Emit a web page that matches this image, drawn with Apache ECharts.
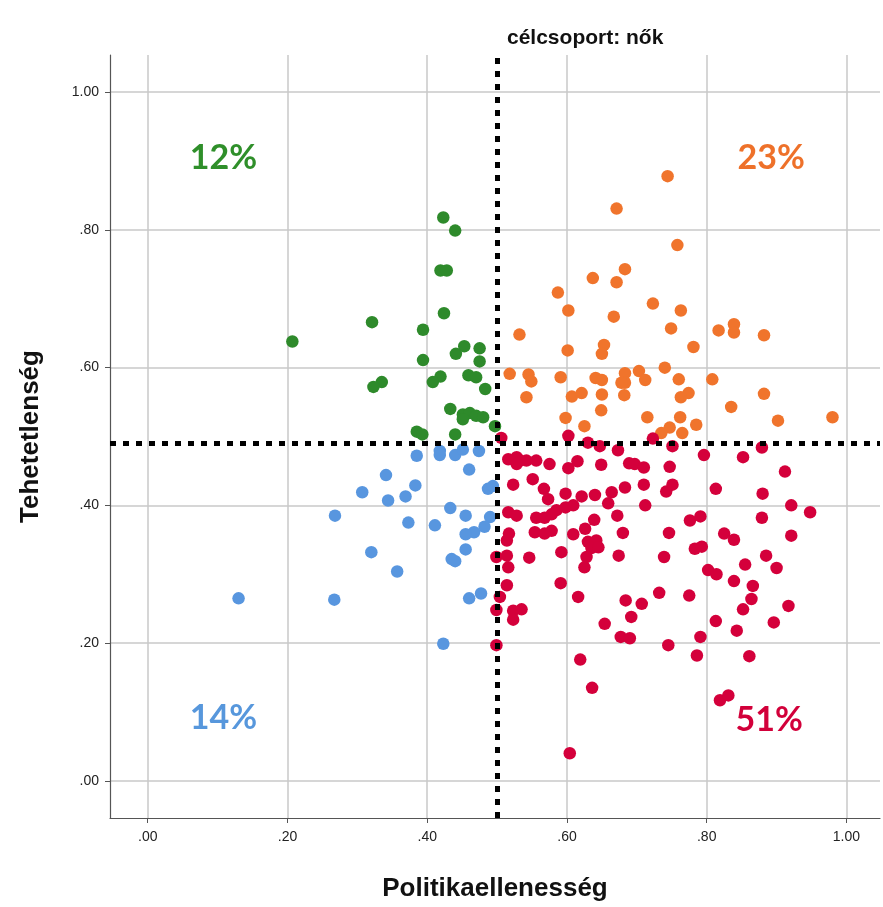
<!DOCTYPE html>
<html>
<head>
<meta charset="utf-8">
<script src="https://cdn.jsdelivr.net/npm/echarts@6/dist/echarts.min.js"></script>
<style>html,body{margin:0;padding:0;background:#fff}#c{width:883px;height:907px}</style>
</head>
<body>
<div id="c"></div>
<script>
// ---- data ----
const greenPts = [
  [0.423,0.818],[0.440,0.799],[0.419,0.741],[0.428,0.741],[0.424,0.679],[0.321,0.666],
  [0.207,0.638],[0.394,0.655],[0.453,0.631],[0.475,0.628],[0.441,0.620],[0.394,0.611],
  [0.475,0.609],[0.335,0.579],[0.323,0.572],[0.419,0.587],[0.408,0.579],[0.459,0.589],
  [0.470,0.586],[0.483,0.569],[0.433,0.540],[0.451,0.532],[0.461,0.534],[0.470,0.530],
  [0.480,0.528],[0.451,0.525],[0.497,0.515],[0.385,0.507],[0.393,0.503],[0.440,0.503]
];
const orangePts = [
  [0.744,0.878],[0.671,0.831],[0.758,0.778],[0.683,0.743],[0.637,0.730],[0.671,0.724],
  [0.587,0.709],[0.723,0.693],[0.602,0.683],[0.763,0.683],[0.667,0.674],[0.749,0.657],
  [0.532,0.648],[0.817,0.654],[0.839,0.663],[0.839,0.651],[0.882,0.647],[0.653,0.633],
  [0.650,0.620],[0.601,0.625],[0.781,0.630],[0.518,0.591],[0.545,0.590],[0.549,0.580],
  [0.591,0.586],[0.641,0.585],[0.650,0.582],[0.683,0.592],[0.683,0.578],[0.678,0.578],
  [0.703,0.595],[0.712,0.582],[0.740,0.600],[0.760,0.583],[0.808,0.583],[0.621,0.563],
  [0.774,0.563],[0.542,0.557],[0.607,0.558],[0.650,0.561],[0.682,0.560],[0.763,0.557],
  [0.882,0.562],[0.835,0.543],[0.649,0.538],[0.598,0.527],[0.715,0.528],[0.762,0.528],
  [0.980,0.528],[0.902,0.523],[0.785,0.517],[0.625,0.515],[0.747,0.513],[0.735,0.505],
  [0.765,0.505]
];
const bluePts = [
  [0.385,0.472],[0.418,0.479],[0.418,0.473],[0.440,0.473],[0.451,0.481],[0.474,0.479],
  [0.460,0.452],[0.341,0.444],[0.383,0.429],[0.307,0.419],[0.344,0.407],[0.369,0.413],
  [0.487,0.424],[0.494,0.428],[0.268,0.385],[0.433,0.396],[0.455,0.385],[0.373,0.375],
  [0.411,0.371],[0.490,0.383],[0.482,0.369],[0.467,0.361],[0.455,0.358],[0.320,0.332],
  [0.455,0.336],[0.435,0.322],[0.440,0.319],[0.357,0.304],[0.130,0.265],[0.267,0.263],
  [0.460,0.265],[0.477,0.272],[0.423,0.199]
];
const redPts = [
  [0.506,0.498],[0.602,0.501],[0.630,0.491],[0.647,0.486],[0.673,0.480],[0.723,0.497],
  [0.751,0.486],[0.879,0.484],[0.852,0.470],[0.796,0.473],[0.516,0.467],[0.528,0.470],
  [0.533,0.465],[0.542,0.465],[0.556,0.465],[0.528,0.460],[0.575,0.460],[0.602,0.454],
  [0.615,0.464],[0.649,0.459],[0.689,0.461],[0.697,0.460],[0.710,0.455],[0.747,0.456],
  [0.912,0.449],[0.523,0.430],[0.551,0.438],[0.567,0.424],[0.573,0.409],[0.598,0.417],
  [0.621,0.413],[0.640,0.415],[0.664,0.419],[0.659,0.403],[0.683,0.426],[0.710,0.430],
  [0.742,0.420],[0.751,0.430],[0.813,0.424],[0.880,0.417],[0.712,0.400],[0.921,0.400],
  [0.948,0.390],[0.516,0.390],[0.528,0.385],[0.585,0.393],[0.598,0.397],[0.609,0.400],
  [0.578,0.387],[0.556,0.382],[0.568,0.382],[0.639,0.379],[0.672,0.385],[0.776,0.378],
  [0.791,0.384],[0.879,0.382],[0.517,0.359],[0.514,0.349],[0.554,0.361],[0.568,0.359],
  [0.578,0.363],[0.609,0.358],[0.626,0.366],[0.680,0.360],[0.746,0.360],[0.825,0.359],
  [0.839,0.350],[0.921,0.356],[0.630,0.347],[0.642,0.349],[0.635,0.338],[0.645,0.339],
  [0.783,0.337],[0.793,0.340],[0.499,0.325],[0.514,0.327],[0.516,0.310],[0.546,0.324],
  [0.592,0.332],[0.628,0.325],[0.625,0.310],[0.674,0.327],[0.739,0.325],[0.885,0.327],
  [0.855,0.314],[0.900,0.309],[0.802,0.306],[0.814,0.300],[0.514,0.284],[0.504,0.267],
  [0.591,0.287],[0.839,0.290],[0.866,0.283],[0.616,0.267],[0.684,0.262],[0.707,0.257],
  [0.732,0.273],[0.775,0.269],[0.864,0.264],[0.852,0.249],[0.917,0.254],[0.499,0.248],
  [0.523,0.247],[0.535,0.249],[0.523,0.234],[0.692,0.238],[0.654,0.228],[0.813,0.232],
  [0.896,0.230],[0.843,0.218],[0.677,0.209],[0.690,0.207],[0.791,0.209],[0.745,0.197],
  [0.499,0.197],[0.786,0.182],[0.861,0.181],[0.619,0.176],[0.636,0.135],[0.819,0.117],
  [0.831,0.124],[0.604,0.040]
];
const tickValues = [0, 0.2, 0.4, 0.6, 0.8, 1.0];
const cutX = 0.503;   // vertical cut (Politikaellenesség)
const cutY = 0.489;   // horizontal cut (Tehetetlenség)
const quadTexts = ['12%', '23%', '14%', '51%'];
const quadPos = [[0.109, 0.903], [0.893, 0.903], [0.109, 0.091], [0.890, 0.088]];
const titleText = 'célcsoport: nők';
const xName = 'Politikaellenesség';
const yName = 'Tehetetlenség';

// ---- styles ----
const COL = { green: '#2e8a2b', orange: '#f0742c', blue: '#5896df', red: '#d4003b' };
const TXT = ['#2f8f2a', '#ee712a', '#5797dc', '#d2003a'];
const fmt = v => { const s = (Math.round(v * 100) / 100).toFixed(2); return s.startsWith('0') ? s.slice(1) : s; };

const axisCommon = {
  type: 'value',
  axisLine: { show: true, onZero: false, lineStyle: { color: '#555', width: 1.2 } },
  axisTick: { show: true, length: 5, customValues: tickValues, lineStyle: { color: '#555' } },
  axisLabel: { customValues: tickValues, formatter: fmt, color: '#222', fontSize: 14, fontFamily: 'Arial' },
  splitLine: { show: true, lineStyle: { color: '#c9c9c9', width: 1.5 } },
  nameLocation: 'middle',
  nameTextStyle: { fontFamily: 'Arial', fontWeight: 'bold', fontSize: 26, color: '#111' }
};

const scatter = (data, color, z) => ({
  type: 'scatter', data, symbolSize: 12.5, z,
  itemStyle: { color, opacity: 1 }, silent: true
});

const option = {
  animation: false,
  grid: { left: 110, right: 3, top: 55, bottom: 85, containLabel: false },
  xAxis: Object.assign({}, axisCommon, {
    min: -0.054, max: 1.048, name: xName, nameGap: 58,
    axisLabel: Object.assign({}, axisCommon.axisLabel, { margin: 12 })
  }),
  yAxis: Object.assign({}, axisCommon, {
    min: -0.054, max: 1.054, name: yName, nameGap: 66,
    axisLabel: Object.assign({}, axisCommon.axisLabel, { margin: 11 })
  }),
  graphic: [{
    type: 'text', left: 507, top: 28,
    style: { text: titleText, font: 'bold 21px Arial', fill: '#111' }
  }],
  series: [
    scatter(greenPts, COL.green, 3),
    scatter(bluePts, COL.blue, 3),
    scatter(orangePts, COL.orange, 3),
    Object.assign(scatter(redPts, COL.red, 3), {
      markLine: {
        silent: true, symbol: 'none', z: 10,
        label: { show: false },
        lineStyle: { color: '#000', width: 5, type: [6, 7], cap: 'butt', opacity: 1 },
        data: [{ xAxis: cutX }, { yAxis: cutY }]
      }
    }),
    {
      type: 'scatter', symbolSize: 1, silent: true, z: 5,
      itemStyle: { opacity: 0 },
      data: quadPos.map((p, i) => ({
        value: p,
        label: {
          show: true, position: [0, 0], align: 'center', verticalAlign: 'middle',
          formatter: quadTexts[i], opacity: 1, textBorderWidth: 0,
          color: TXT[i], fontSize: 34, fontWeight: 'bold', fontFamily: 'Lato, "Open Sans", sans-serif'
        }
      }))
    }
  ]
};

const chart = echarts.init(document.getElementById('c'), null, { renderer: 'canvas' });
chart.setOption(option);
</script>
</body>
</html>
